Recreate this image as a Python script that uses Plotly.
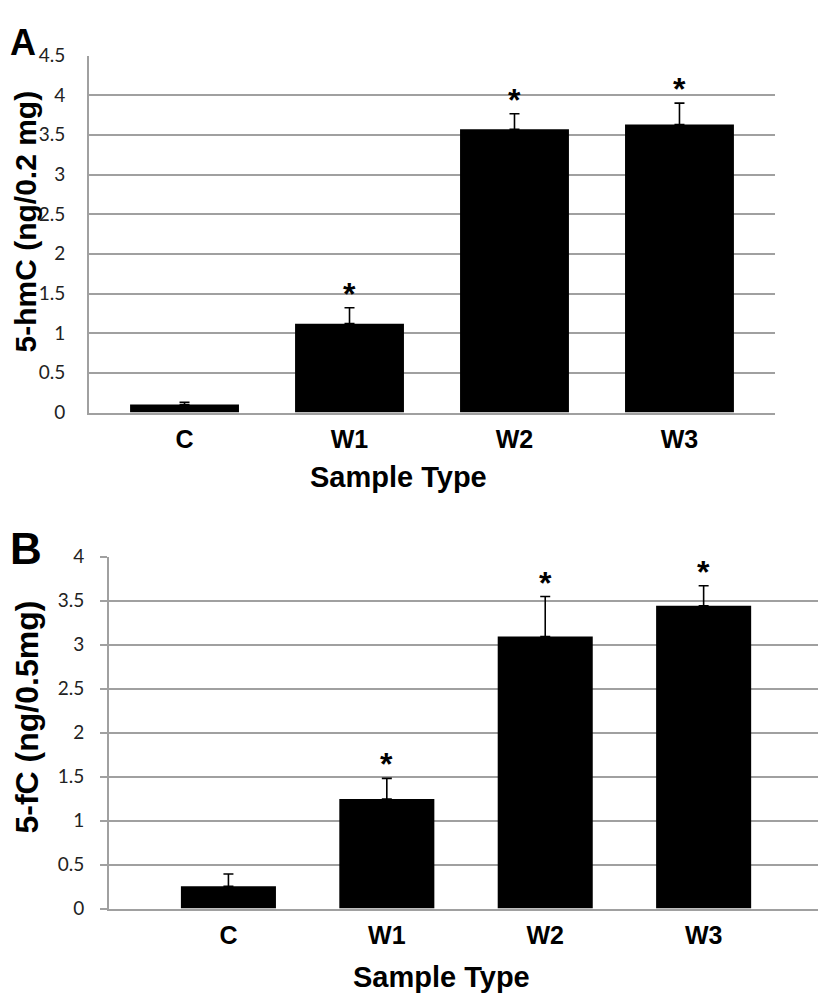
import plotly.graph_objects as go

categories = ["C", "W1", "W2", "W3"]

# Panel A: 5-hmC
hmc_values = [0.10, 1.12, 3.57, 3.63]
hmc_err = [0.03, 0.20, 0.195, 0.27]
hmc_sig = ["", "*", "*", "*"]

# Panel B: 5-fC
fc_values = [0.253, 1.244, 3.09, 3.44]
fc_err = [0.14, 0.235, 0.455, 0.227]
fc_sig = ["", "*", "*", "*"]

hmc_ticks = [0, 0.5, 1, 1.5, 2, 2.5, 3, 3.5, 4, 4.5]
hmc_ticktext = ["0", "0.5", "1", "1.5", "2", "2.5", "3", "3.5", "4", "4.5"]
fc_ticks = [0, 0.5, 1, 1.5, 2, 2.5, 3, 3.5, 4]
fc_ticktext = ["0", "0.5", "1", "1.5", "2", "2.5", "3", "3.5", "4"]

# mapping from target picture pixels to figure pixels
W, H = 810, 1001
OX = 8
OY, SY = 19.5, 0.977


def fx(x):
    return x - OX


def fy(y):
    return (y - OY) / SY


def px(x):
    return fx(x) / W


def py(y):
    return 1 - fy(y) / H


GRID = "#a0a0a0"
TICKFONT = dict(family="Lato", size=19, color="#222222")
CATFONT = dict(family="Liberation Sans", size=25, color="black")
TITLEFONT = dict(family="Liberation Sans", size=29, color="black")
STARFONT = dict(family="Liberation Sans", size=32, color="black")

fig = go.Figure()

fig.add_trace(go.Bar(
    x=categories, y=hmc_values, xaxis="x", yaxis="y",
    marker=dict(color="black", line=dict(width=0)),
    width=0.66,
    error_y=dict(type="data", symmetric=False, array=hmc_err,
                 arrayminus=[0] * len(hmc_err), color="black",
                 thickness=1.6, width=5),
    showlegend=False,
))
fig.add_trace(go.Bar(
    x=categories, y=fc_values, xaxis="x2", yaxis="y2",
    marker=dict(color="black", line=dict(width=0)),
    width=0.60,
    error_y=dict(type="data", symmetric=False, array=fc_err,
                 arrayminus=[0] * len(fc_err), color="black",
                 thickness=1.6, width=5),
    showlegend=False,
))

annotations = []
for cat, v, e, s in zip(categories, hmc_values, hmc_err, hmc_sig):
    if s:
        annotations.append(dict(x=cat, y=v + e, xref="x", yref="y", text="<b>" + s + "</b>",
                                showarrow=False, yanchor="bottom", yshift=-6,
                                font=STARFONT))
for cat, v, e, s in zip(categories, fc_values, fc_err, fc_sig):
    if s:
        annotations.append(dict(x=cat, y=v + e, xref="x2", yref="y2", text="<b>" + s + "</b>",
                                showarrow=False, yanchor="bottom", yshift=-6,
                                font=STARFONT))

# y-axis titles
annotations.append(dict(x=px(26), y=py(221), xref="paper", yref="paper",
                        text="<b>5-hmC (ng/0.2 mg)</b>", textangle=-90, showarrow=False,
                        xanchor="center", yanchor="middle", font=dict(TITLEFONT, size=30)))
annotations.append(dict(x=px(27), y=py(717), xref="paper", yref="paper",
                        text="<b>5-fC (ng/0.5mg)</b>", textangle=-90, showarrow=False,
                        xanchor="center", yanchor="middle", font=dict(TITLEFONT, size=32)))
# x-axis titles
annotations.append(dict(x=px(398), y=py(476), xref="paper", yref="paper",
                        text="<b>Sample Type</b>", showarrow=False,
                        xanchor="center", yanchor="middle", font=TITLEFONT))
annotations.append(dict(x=px(442), y=py(976), xref="paper", yref="paper",
                        text="<b>Sample Type</b>", showarrow=False,
                        xanchor="center", yanchor="middle", font=TITLEFONT))
# panel letters
annotations.append(dict(x=0, y=1, xref="paper", yref="paper",
                        text="<b>A</b>", showarrow=False,
                        xanchor="left", yanchor="top",
                        font=dict(family="Liberation Sans", size=36, color="black")))
annotations.append(dict(x=0, y=py(547.5), xref="paper", yref="paper",
                        text="<b>B</b>", showarrow=False,
                        xanchor="left", yanchor="middle",
                        font=dict(family="Liberation Sans", size=44, color="black")))

fig.update_layout(
    width=W, height=H,
    margin=dict(l=0, r=0, t=0, b=0),
    paper_bgcolor="white", plot_bgcolor="white",
    annotations=annotations,
    xaxis=dict(domain=[px(89), px(775)], anchor="y", range=[-0.579, 3.579],
               showgrid=False, showline=True, linecolor=GRID, linewidth=2,
               ticks="", tickfont=CATFONT,
               tickprefix="<b>", ticksuffix="</b>", ticklabelstandoff=3),
    yaxis=dict(domain=[py(412), py(55)], anchor="x", range=[0, 4.5],
               tickvals=hmc_ticks, ticktext=hmc_ticktext,
               showgrid=True, gridcolor=GRID, gridwidth=2,
               showline=True, linecolor=GRID, linewidth=2,
               ticks="", tickfont=TICKFONT, ticklabelstandoff=18,
               zeroline=False),
    xaxis2=dict(domain=[px(109), 1.0], anchor="y2", range=[-0.754, 3.722],
                showgrid=False, showline=True, linecolor=GRID, linewidth=2,
                ticks="", tickfont=CATFONT,
                tickprefix="<b>", ticksuffix="</b>", ticklabelstandoff=3),
    yaxis2=dict(domain=[py(908), py(556)], anchor="x2", range=[0, 4],
                tickvals=fc_ticks, ticktext=fc_ticktext,
                showgrid=True, gridcolor=GRID, gridwidth=2,
                showline=True, linecolor=GRID, linewidth=2,
                ticks="outside", ticklen=7, tickcolor=GRID, tickwidth=2,
                tickfont=TICKFONT, ticklabelstandoff=12,
                zeroline=False),
)

fig.write_html("out.html")
